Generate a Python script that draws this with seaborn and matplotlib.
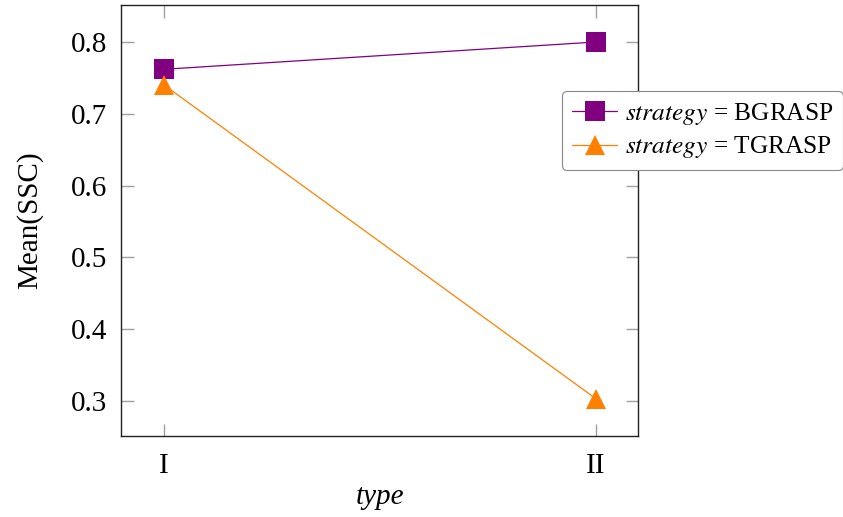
import matplotlib
matplotlib.use("Agg")
import matplotlib.pyplot as plt
import seaborn as sns
import pandas as pd

# Mean SSC per instance type and strategy
types = ["I", "II"]
strategies = ["BGRASP", "TGRASP"]
bgrasp_mean = [0.762, 0.800]
tgrasp_mean = [0.740, 0.303]

df = pd.DataFrame({
    "type": types * 2,
    "strategy": [strategies[0]] * 2 + [strategies[1]] * 2,
    "mean": bgrasp_mean + tgrasp_mean,
})
df["pos"] = df["type"].map({t: i for i, t in enumerate(types)})

sns.set_theme(style="ticks")
plt.rcParams["font.family"] = ["Liberation Serif", "DejaVu Serif"]
plt.rcParams["mathtext.fontset"] = "stix"
plt.rcParams["text.color"] = "black"
plt.rcParams["axes.labelcolor"] = "black"
plt.rcParams["xtick.labelcolor"] = "black"
plt.rcParams["ytick.labelcolor"] = "black"

fig = plt.figure(figsize=(8.43, 5.17), dpi=100)
ax = fig.add_axes([121 / 843, 1 - 436 / 517, 517 / 843, 431 / 517])

palette = {"BGRASP": "#800080", "TGRASP": "#ff8000"}
markers = {"BGRASP": "s", "TGRASP": "^"}
sns.lineplot(data=df, x="pos", y="mean", hue="strategy", style="strategy",
             palette=palette, markers=markers, dashes=False, lw=0.9,
             markersize=14, markeredgewidth=0, ax=ax, legend=False)

ax.set_xlim(-0.1, 1.097)
ax.set_ylim(0.2513, 0.8515)
ax.set_xticks(range(len(types)))
ax.set_xticklabels(types)
ax.set_yticks([0.3, 0.4, 0.5, 0.6, 0.7, 0.8])
ax.set_yticklabels(["0.3", "0.4", "0.5", "0.6", "0.7", "0.8"])
ax.tick_params(direction="in", length=9, width=1.0, color="#a0a0a0",
               labelsize=21, top=True, right=True)
ax.tick_params(axis="x", pad=12)
ax.tick_params(axis="y", pad=10)
for s in ax.spines.values():
    s.set_color("#222222")
    s.set_linewidth(1.0)

ax.set_xlabel("type", fontsize=21, style="italic", labelpad=4)
ax.set_ylabel("Mean(SSC)", fontsize=21, labelpad=20)

handles = []
for st in strategies:
    h, = ax.plot([], [], color=palette[st], marker=markers[st], lw=0.9,
                 markersize=14, markeredgewidth=0)
    handles.append(h)
labels = [r"$\it{strategy}$ = " + st for st in strategies]
leg = ax.legend(handles, labels, loc="upper left", bbox_to_anchor=(0.853, 0.80),
                borderaxespad=0, fontsize=18.3, frameon=True, fancybox=True,
                handlelength=1.8, handletextpad=0.28, borderpad=0.38,
                labelspacing=0.3, edgecolor="#888888", framealpha=1)
leg.get_frame().set_linewidth(0.8)

fig.savefig("out.png", dpi=100)
